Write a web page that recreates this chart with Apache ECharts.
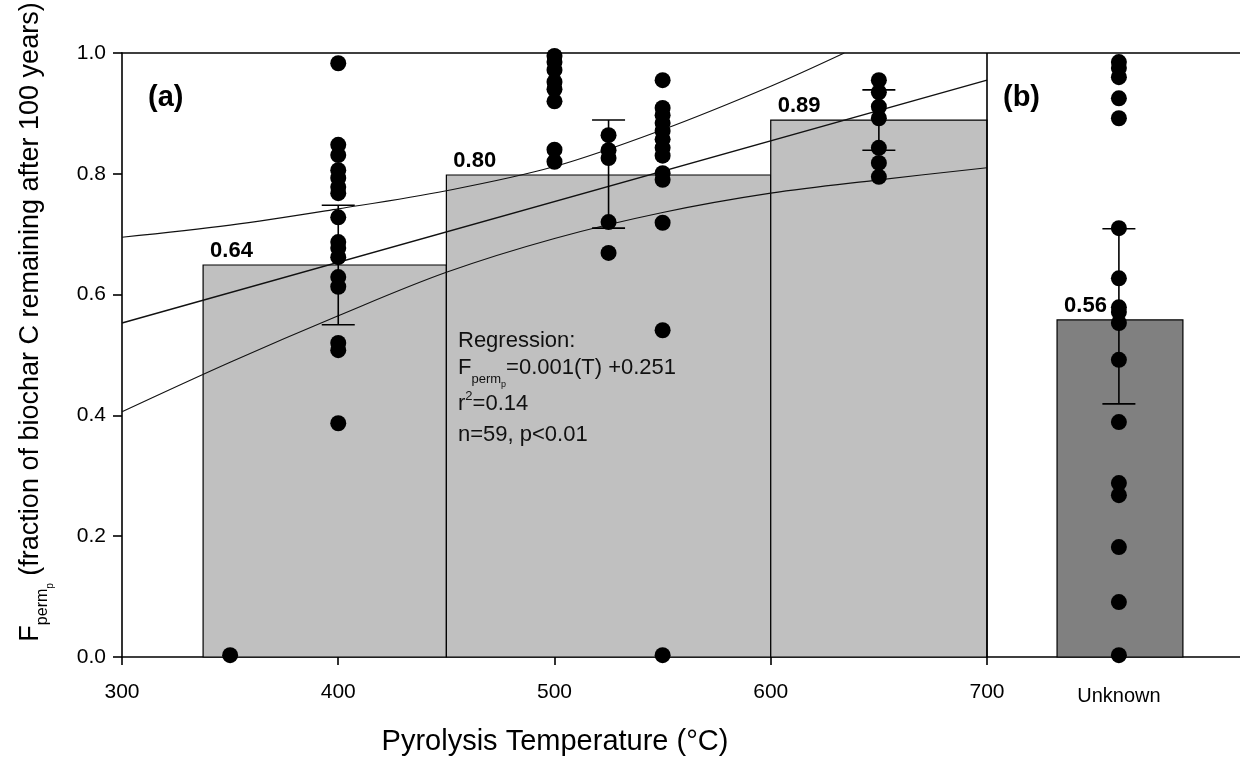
<!DOCTYPE html>
<html>
<head>
<meta charset="utf-8">
<script src="https://cdn.jsdelivr.net/npm/echarts@6/dist/echarts.min.js"></script>
<style>html,body{margin:0;padding:0;background:#fff;}#c{width:1240px;height:757px;}</style>
</head>
<body>
<div id="c"></div>
<script>
// ---- data ----
const xTicks = [300, 400, 500, 600, 700];
const unknownPos = 761;
const yTicks = [0, 0.2, 0.4, 0.6, 0.8, 1.0];

const barStarts = [337.5, 450, 600];
const barEnds = [450, 600, 700];
const barHeights = [0.649, 0.798, 0.889];
const barLabels = ['0.64', '0.80', '0.89'];

const unkBarStart = [732.4];
const unkBarEnd = [790.6];
const unkBarHeight = [0.558];
const unkBarLabel = ['0.56'];

const pts350 = [0.003];
const pts400 = [0.983, 0.848, 0.831, 0.806, 0.793, 0.778, 0.768, 0.728, 0.687, 0.677, 0.662, 0.629, 0.613, 0.520, 0.508, 0.387];
const pts500 = [0.995, 0.985, 0.972, 0.952, 0.940, 0.920, 0.840, 0.820];
const pts525 = [0.864, 0.839, 0.826, 0.720, 0.669];
const pts550 = [0.955, 0.909, 0.897, 0.884, 0.871, 0.857, 0.843, 0.830, 0.801, 0.790, 0.719, 0.541, 0.003];
const pts650 = [0.955, 0.935, 0.911, 0.892, 0.843, 0.818, 0.795];
const ptsUnknown = [0.985, 0.975, 0.960, 0.925, 0.892, 0.710, 0.627, 0.579, 0.571, 0.553, 0.492, 0.389, 0.288, 0.268, 0.182, 0.091, 0.003];

const errX = [400, 525, 650, 761];
const errLow = [0.550, 0.710, 0.839, 0.419];
const errHigh = [0.748, 0.889, 0.939, 0.709];

const fitLine = [[300, 0.553], [700, 0.955]];
const upperBand = [[300, 0.695], [350, 0.715], [400, 0.742], [450, 0.772], [500, 0.812], [550, 0.873], [600, 0.945], [634, 1.0]];
const lowerBand = [[300, 0.406], [350, 0.488], [400, 0.565], [450, 0.637], [500, 0.693], [550, 0.736], [600, 0.768], [650, 0.790], [700, 0.810]];

// ---- chart ----
const FONT = '"Liberation Sans", Arial, sans-serif';
const chart = echarts.init(document.getElementById('c'), null, {renderer: 'canvas'});

function toPts(x, arr) { return arr.map(v => [x, v]); }
const scatterData = [].concat(
  toPts(350, pts350), toPts(400, pts400), toPts(500, pts500), toPts(525, pts525),
  toPts(550, pts550), toPts(650, pts650), toPts(unknownPos, ptsUnknown)
);

function barRender(labels, color) {
  return function (params, api) {
    const x0 = api.value(0), x1 = api.value(1), h = api.value(2);
    const p0 = api.coord([x0, h]);
    const p1 = api.coord([x1, 0]);
    return {
      type: 'group',
      children: [
        {type: 'rect', shape: {x: p0[0], y: p0[1], width: p1[0] - p0[0], height: p1[1] - p0[1]},
         style: {fill: color, stroke: '#000', lineWidth: 1.2}},
        {type: 'text', z2: 50, style: {text: labels[params.dataIndex], x: p0[0] + 7, y: p0[1] - 3,
         verticalAlign: 'bottom', align: 'left', fill: '#000', font: 'bold 22px ' + FONT}}
      ]
    };
  };
}

function errRender(params, api) {
  const x = api.value(0), lo = api.value(1), hi = api.value(2);
  const pl = api.coord([x, lo]);
  const ph = api.coord([x, hi]);
  const w = 16.5;
  const st = {stroke: '#000', lineWidth: 1.6};
  return {
    type: 'group',
    children: [
      {type: 'line', shape: {x1: pl[0], y1: pl[1], x2: ph[0], y2: ph[1]}, style: st},
      {type: 'line', shape: {x1: pl[0] - w, y1: pl[1], x2: pl[0] + w, y2: pl[1]}, style: st},
      {type: 'line', shape: {x1: ph[0] - w, y1: ph[1], x2: ph[0] + w, y2: ph[1]}, style: st}
    ]
  };
}

const option = {
  animation: false,
  backgroundColor: '#fff',
  grid: {left: 122, right: 0, top: 53, bottom: 100, containLabel: false, outerBoundsMode: 'none'},
  xAxis: [{
    type: 'value', min: 300, max: 817,
    axisLine: {show: true, lineStyle: {color: '#000', width: 1.6}},
    axisTick: {show: true, customValues: xTicks, length: 8, lineStyle: {color: '#000', width: 1.6}},
    axisLabel: {
      customValues: xTicks.concat([unknownPos]),
      margin: 25, fontSize: 21, color: '#000', fontFamily: FONT,
      formatter: v => (v === unknownPos ? '{u|Unknown}' : String(v)),
      rich: {u: {fontSize: 20, fontFamily: FONT, color: '#000', padding: [4, 0, 0, 0]}}
    },
    splitLine: {show: false}
  }, {
    type: 'value', min: 300, max: 817, position: 'top',
    axisLine: {show: true, onZero: false, lineStyle: {color: '#000', width: 1.6}},
    axisTick: {show: false}, axisLabel: {show: false}, splitLine: {show: false}
  }],
  yAxis: {
    type: 'value', min: 0, max: 1, interval: 0.2,
    axisLine: {show: true, onZero: false, lineStyle: {color: '#000', width: 1.6}},
    axisTick: {show: true, length: 9, lineStyle: {color: '#000', width: 1.6}},
    axisLabel: {margin: 16, fontSize: 21, color: '#000', fontFamily: FONT, formatter: v => v.toFixed(1)},
    splitLine: {show: false}
  },
  series: [
    {
      type: 'custom', renderItem: barRender(barLabels, '#c0c0c0'), z: 1,
      encode: {x: [0, 1], y: 2},
      data: barStarts.map((s, i) => [s, barEnds[i], barHeights[i]]),
      markLine: {
        silent: true, symbol: ['none', 'none'], label: {show: false},
        lineStyle: {color: '#000', width: 1.6, type: 'solid'},
        data: [{xAxis: 700}]
      }
    },
    {
      type: 'custom', renderItem: barRender(unkBarLabel, '#808080'), z: 1,
      encode: {x: [0, 1], y: 2},
      data: unkBarStart.map((s, i) => [s, unkBarEnd[i], unkBarHeight[i]])
    },
    {type: 'line', data: fitLine, showSymbol: false, symbol: 'none', z: 2,
     lineStyle: {color: '#111', width: 1.4}},
    {type: 'line', data: upperBand, smooth: 0.35, symbol: 'none', z: 2,
     lineStyle: {color: '#111', width: 1.1}},
    {type: 'line', data: lowerBand, smooth: 0.35, symbol: 'none', z: 2,
     lineStyle: {color: '#111', width: 1.1}},
    {type: 'scatter', data: scatterData, symbol: 'circle', symbolSize: 16, z: 3,
     itemStyle: {color: '#000', opacity: 1}},
    {type: 'custom', renderItem: errRender, z: 4, encode: {x: 0, y: [1, 2]},
     data: errX.map((x, i) => [x, errLow[i], errHigh[i]])}
  ],
  graphic: {elements: [
    {type: 'text', z: 100, left: 148, top: 83, style: {text: '(a)', font: 'bold 29px ' + FONT, fill: '#000'}},
    {type: 'text', z: 100, left: 1003, top: 83, style: {text: '(b)', font: 'bold 29px ' + FONT, fill: '#000'}},
    {type: 'text', z: 100, x: 458, y: 341, style: {text: 'Regression:', font: '22px ' + FONT, fill: '#111', verticalAlign: 'middle'}},
    {type: 'text', z: 100, x: 458, y: 368, style: {
      text: '{a|F}{b|perm}{c|p}{a|=0.001(T) +0.251}',
      verticalAlign: 'middle',
      rich: {
        a: {fontSize: 22, fontFamily: FONT, fill: '#111', lineHeight: 26},
        b: {fontSize: 13, fontFamily: FONT, fill: '#111', lineHeight: 13, verticalAlign: 'bottom', padding: [0, 0, -5, 0]},
        c: {fontSize: 9, fontFamily: FONT, fill: '#111', lineHeight: 9, verticalAlign: 'bottom', padding: [0, 0, -8, 0]}
      }
    }},
    {type: 'text', z: 100, x: 458, y: 404, style: {
      text: '{a|r}{s|2}{a|=0.14}', verticalAlign: 'middle',
      rich: {
        a: {fontSize: 22, fontFamily: FONT, fill: '#111', lineHeight: 26},
        s: {fontSize: 13, fontFamily: FONT, fill: '#111', lineHeight: 13, verticalAlign: 'top', padding: [-1, 0, 0, 0]}
      }
    }},
    {type: 'text', z: 100, x: 458, y: 435, style: {text: 'n=59, p<0.01', font: '22px ' + FONT, fill: '#111', verticalAlign: 'middle'}},
    {type: 'text', z: 100, x: 555, y: 742, style: {text: 'Pyrolysis Temperature (°C)', font: '29px ' + FONT, fill: '#000', align: 'center', verticalAlign: 'middle'}},
    {type: 'text', z: 100, x: 31, y: 322, rotation: Math.PI / 2, style: {
      text: '{a|F}{b|perm}{c|p}{a| (fraction of biochar C remaining after 100 years)}',
      align: 'center', verticalAlign: 'middle',
      rich: {
        a: {fontSize: 27, fontFamily: FONT, fill: '#000', lineHeight: 32},
        b: {fontSize: 16, fontFamily: FONT, fill: '#000', lineHeight: 16, verticalAlign: 'bottom', padding: [0, 0, -4, 0]},
        c: {fontSize: 10, fontFamily: FONT, fill: '#000', lineHeight: 10, verticalAlign: 'bottom', padding: [0, 0, -8, 0]}
      }
    }}
  ]}
};
chart.setOption(option);
</script>
</body>
</html>
